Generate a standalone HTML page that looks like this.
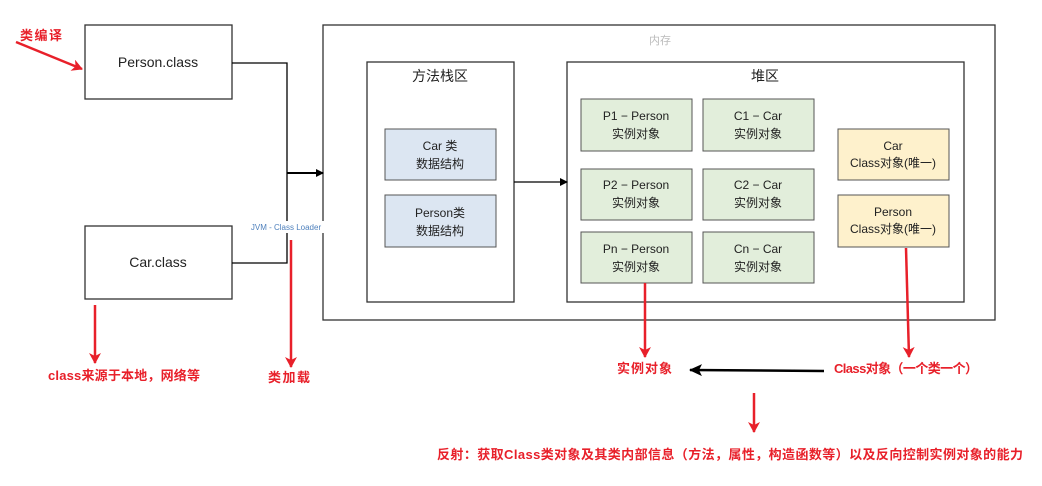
<!DOCTYPE html>
<html><head><meta charset="utf-8"><style>
html,body{margin:0;padding:0;background:#fff;width:1042px;height:486px;overflow:hidden}
svg text{font-family:"Liberation Sans","Noto Sans CJK SC",sans-serif}
</style></head><body>
<svg width="1042" height="486" viewBox="0 0 1042 486" xmlns="http://www.w3.org/2000/svg">
<defs>
<marker id="ak" markerWidth="8" markerHeight="8" refX="7" refY="4" orient="auto" markerUnits="userSpaceOnUse"><path d="M0,0 L8,4 L0,8 Z" fill="#000"/></marker>
<marker id="ar" markerWidth="12" markerHeight="12" refX="10" refY="6" orient="auto" markerUnits="userSpaceOnUse"><path d="M0,0 L11,6 L0,12 L3,6 Z" fill="#e8202a"/></marker>
<marker id="ak2" markerWidth="14" markerHeight="12" refX="12" refY="6" orient="auto" markerUnits="userSpaceOnUse"><path d="M0,0 L13,6 L0,12 L3,6 Z" fill="#000"/></marker>
</defs>
<g stroke="#333" stroke-width="1.3" fill="#fff">
<rect x="85" y="25" width="147" height="74"/>
<rect x="85" y="226" width="147" height="73"/>
<rect x="323" y="25" width="672" height="295"/>
<rect x="367" y="62" width="147" height="240"/>
<rect x="567" y="62" width="397" height="240"/>
</g>
<g stroke="#555" stroke-width="1" fill="#dce6f2">
<rect x="385" y="129" width="111" height="51"/>
<rect x="385" y="195" width="111" height="52"/>
</g>
<g stroke="#555" stroke-width="1" fill="#e2eedb">
<rect x="581" y="99" width="111" height="52"/>
<rect x="703" y="99" width="111" height="52"/>
<rect x="581" y="169" width="111" height="51"/>
<rect x="703" y="169" width="111" height="51"/>
<rect x="581" y="232" width="111" height="51"/>
<rect x="703" y="232" width="111" height="51"/>
</g>
<g stroke="#555" stroke-width="1" fill="#fef1cc">
<rect x="838" y="129" width="111" height="51"/>
<rect x="838" y="195" width="111" height="52"/>
</g>
<path d="M232,63 H287 V263 H232" fill="none" stroke="#000" stroke-width="1.3"/>
<line x1="287" y1="173" x2="323" y2="173" stroke="#000" stroke-width="2" marker-end="url(#ak)"/>
<line x1="514" y1="182" x2="567" y2="182" stroke="#000" stroke-width="1.3" marker-end="url(#ak)"/>
<rect x="248" y="221" width="76" height="12" fill="#fff"/>
<text x="286" y="230" font-size="8" fill="#4f81bd" text-anchor="middle">JVM - Class Loader</text>
<g font-size="14" fill="#222" text-anchor="middle">
<text x="158" y="67">Person.class</text>
<text x="158" y="267">Car.class</text>
<text x="440" y="81">方法栈区</text>
<text x="765" y="81">堆区</text>
</g>
<text x="660" y="44" font-size="11" fill="#bbb" text-anchor="middle">内存</text>
<g font-size="12" fill="#222" text-anchor="middle">
<text x="440" y="150">Car 类</text><text x="440" y="168">数据结构</text>
<text x="440" y="217">Person类</text><text x="440" y="235">数据结构</text>
<text x="636" y="120">P1 − Person</text><text x="636" y="138">实例对象</text>
<text x="758" y="120">C1 − Car</text><text x="758" y="138">实例对象</text>
<text x="636" y="189">P2 − Person</text><text x="636" y="207">实例对象</text>
<text x="758" y="189">C2 − Car</text><text x="758" y="207">实例对象</text>
<text x="636" y="253">Pn − Person</text><text x="636" y="271">实例对象</text>
<text x="758" y="253">Cn − Car</text><text x="758" y="271">实例对象</text>
<text x="893" y="150">Car</text><text x="893" y="167">Class对象(唯一)</text>
<text x="893" y="216">Person</text><text x="893" y="233">Class对象(唯一)</text>
</g>
<g stroke="#e8202a" stroke-width="2.5" fill="none">
<line x1="16" y1="42" x2="82" y2="69" marker-end="url(#ar)"/>
<line x1="95" y1="305" x2="95" y2="363" marker-end="url(#ar)"/>
<line x1="291" y1="240" x2="291" y2="367" marker-end="url(#ar)"/>
<line x1="645" y1="283" x2="645" y2="357" marker-end="url(#ar)"/>
<line x1="906" y1="248" x2="909" y2="357" marker-end="url(#ar)"/>
<line x1="754" y1="393" x2="754" y2="432" marker-end="url(#ar)"/>
</g>
<line x1="824" y1="371" x2="690" y2="370" stroke="#000" stroke-width="2.5" marker-end="url(#ak2)"/>
<g font-size="13" font-weight="bold" fill="#e8202a">
<text x="20" y="40" textLength="42">类编译</text>
<text x="48" y="380" textLength="152">class来源于本地，网络等</text>
<text x="268" y="382" textLength="42">类加载</text>
<text x="617" y="373" textLength="55">实例对象</text>
<text x="834" y="373" textLength="144">Class对象（一个类一个）</text>
<text x="437" y="459" textLength="586">反射：获取Class类对象及其类内部信息（方法，属性，构造函数等）以及反向控制实例对象的能力</text>
</g>
</svg>
</body></html>
